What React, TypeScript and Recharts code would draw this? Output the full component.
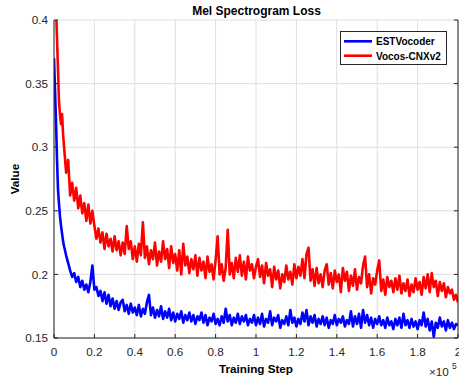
import React from 'react';
import { LineChart, Line, XAxis, YAxis, CartesianGrid } from 'recharts';

const seriesNames = ['ESTVocoder', 'Vocos-CNXv2'];
const seriesColors = ['#0000ff', '#ff0000'];

const chartTitle = 'Mel Spectrogram Loss';
const xLabel = 'Training Step';
const yLabel = 'Value';

const xTicks = [0, 20000, 40000, 60000, 80000, 100000, 120000, 140000, 160000, 180000, 200000];
const xTickLabels = ['0', '0.2', '0.4', '0.6', '0.8', '1', '1.2', '1.4', '1.6', '1.8', '2'];
const yTicks = [0.15, 0.2, 0.25, 0.3, 0.35, 0.4];
const yTickLabels = ['0.15', '0.2', '0.25', '0.3', '0.35', '0.4'];

// early logging (every 500 steps)
const earlySteps = [0, 500, 1000, 1500, 2000, 2500, 3000, 3500, 4000, 4500, 5000];
const estEarly = [0.37, 0.345, 0.32, 0.29, 0.266, 0.255, 0.245, 0.238, 0.232, 0.226, 0.222];
const vocosEarly = [0.46, 0.43, 0.41, 0.385, 0.36, 0.335, 0.325, 0.318, 0.326, 0.31, 0.3];

// later logging (every 1000 steps, from 6000 to 200000)
const lateStart = 6000;
const lateInterval = 1000;
const estLate = [
  0.215, 0.209, 0.203, 0.198, 0.201, 0.194, 0.198, 0.19, 0.195, 0.188,
  0.192, 0.186, 0.194, 0.207, 0.188, 0.19, 0.183, 0.187, 0.179, 0.186,
  0.177, 0.184, 0.175, 0.181, 0.173, 0.179, 0.172, 0.178, 0.18, 0.171,
  0.176, 0.169, 0.177, 0.17, 0.174, 0.168, 0.176, 0.167, 0.173, 0.169,
  0.178, 0.184, 0.168, 0.174, 0.166, 0.172, 0.167, 0.175, 0.165, 0.171,
  0.166, 0.173, 0.164, 0.17, 0.163, 0.169, 0.165, 0.171, 0.162, 0.168,
  0.164, 0.17, 0.163, 0.168, 0.161, 0.167, 0.164, 0.17, 0.162, 0.168,
  0.16, 0.166, 0.163, 0.169, 0.161, 0.165, 0.16, 0.167, 0.162, 0.173,
  0.163, 0.168, 0.16, 0.166, 0.162, 0.169, 0.161, 0.167, 0.163, 0.168,
  0.16, 0.165, 0.162, 0.168, 0.16, 0.166, 0.161, 0.169, 0.159, 0.165,
  0.162, 0.171, 0.16, 0.166, 0.163, 0.168, 0.158, 0.164, 0.161, 0.167,
  0.16, 0.172, 0.162, 0.166, 0.159, 0.165, 0.161, 0.17, 0.163, 0.172,
  0.16, 0.167, 0.162, 0.168, 0.159, 0.165, 0.161, 0.167, 0.16, 0.166,
  0.158, 0.164, 0.161, 0.168, 0.16, 0.165, 0.162, 0.167, 0.159, 0.164,
  0.161, 0.171, 0.159, 0.167, 0.161, 0.169, 0.158, 0.172, 0.162, 0.168,
  0.16, 0.166, 0.158, 0.165, 0.161, 0.167, 0.16, 0.164, 0.158, 0.166,
  0.16, 0.163, 0.157, 0.165, 0.16, 0.166, 0.158, 0.169, 0.16, 0.164,
  0.158, 0.165, 0.159, 0.163, 0.157, 0.164, 0.16, 0.17, 0.159, 0.165,
  0.156, 0.163, 0.151, 0.162, 0.158, 0.166, 0.159, 0.163, 0.156, 0.164,
  0.158, 0.162, 0.157, 0.161, 0.16,
];
const vocosLate = [
  0.28, 0.29, 0.262, 0.272, 0.258, 0.268, 0.252, 0.262, 0.248, 0.256,
  0.242, 0.255, 0.24, 0.25, 0.238, 0.228, 0.236, 0.225, 0.233, 0.22,
  0.232, 0.222, 0.228, 0.218, 0.23, 0.219, 0.226, 0.215, 0.225, 0.216,
  0.238, 0.22, 0.226, 0.212, 0.222, 0.21, 0.224, 0.215, 0.241, 0.213,
  0.222, 0.208, 0.219, 0.212, 0.225, 0.207, 0.218, 0.21, 0.226, 0.212,
  0.22, 0.205, 0.222, 0.209, 0.216, 0.203, 0.219, 0.2, 0.224, 0.207,
  0.214, 0.201, 0.212, 0.204, 0.215, 0.199, 0.213, 0.203, 0.21, 0.197,
  0.214, 0.202, 0.208, 0.196, 0.211, 0.23, 0.2, 0.208, 0.195, 0.205,
  0.235, 0.2, 0.209, 0.197, 0.213, 0.202, 0.215, 0.199, 0.21, 0.196,
  0.214, 0.203, 0.208, 0.197, 0.206, 0.212, 0.198, 0.207, 0.193, 0.209,
  0.199, 0.204, 0.19, 0.206, 0.196, 0.203, 0.189, 0.2, 0.194, 0.207,
  0.196, 0.202, 0.192, 0.208, 0.197, 0.206, 0.199, 0.212, 0.197, 0.216,
  0.221, 0.195, 0.204, 0.191, 0.205, 0.193, 0.2, 0.19, 0.203, 0.208,
  0.192, 0.201, 0.189, 0.203, 0.194, 0.2, 0.186, 0.205, 0.195, 0.202,
  0.187, 0.199, 0.191, 0.204, 0.188, 0.198, 0.193, 0.207, 0.214, 0.19,
  0.2, 0.185, 0.197, 0.192, 0.203, 0.211, 0.187, 0.196, 0.184, 0.198,
  0.19, 0.195, 0.186, 0.197, 0.188, 0.199, 0.185, 0.193, 0.187, 0.196,
  0.183, 0.192, 0.186, 0.197, 0.188, 0.194, 0.184, 0.198, 0.189, 0.2,
  0.186, 0.201, 0.19, 0.195, 0.183, 0.194, 0.187, 0.193, 0.182, 0.19,
  0.185, 0.188, 0.18, 0.184, 0.178,
];

const data = [
  ...earlySteps.map((s, i) => ({ step: s, est: estEarly[i], vocos: vocosEarly[i] })),
  ...estLate.map((v, i) => ({ step: lateStart + i * lateInterval, est: v, vocos: vocosLate[i] })),
];

const FONT = '"Liberation Sans", Arial, Helvetica, sans-serif';
const AXIS_COLOR = '#262626';
const tickFont = { fontFamily: FONT, fontSize: 11.7, fill: AXIS_COLOR };

const BottomTick = (p: any) => {
  const i = xTicks.indexOf(p.payload.value);
  return (
    <g>
      <line x1={p.x} x2={p.x} y1={p.y} y2={p.y - 4} stroke={AXIS_COLOR} strokeWidth={1} />
      <text x={p.x} y={p.y + 18} textAnchor="middle" {...tickFont}>{xTickLabels[i]}</text>
    </g>
  );
};
const TopTick = (p: any) => (
  <line x1={p.x} x2={p.x} y1={p.y} y2={p.y + 4} stroke={AXIS_COLOR} strokeWidth={1} />
);
const LeftTick = (p: any) => {
  const i = yTicks.indexOf(p.payload.value);
  return (
    <g>
      <line x1={p.x} x2={p.x + 4} y1={p.y} y2={p.y} stroke={AXIS_COLOR} strokeWidth={1} />
      <text x={p.x - 6} y={p.y + 4.2} textAnchor="end" {...tickFont}>{yTickLabels[i]}</text>
    </g>
  );
};
const RightTick = (p: any) => (
  <line x1={p.x} x2={p.x - 4} y1={p.y} y2={p.y} stroke={AXIS_COLOR} strokeWidth={1} />
);

export default function App() {
  return (
    <div style={{ position: 'absolute', left: 0, top: 0, width: 459, height: 377, background: '#fff' }}>
      <LineChart width={459} height={377} data={data} margin={{ top: 20, right: 0, bottom: 0, left: 0 }}>
        <CartesianGrid stroke="#dedede" strokeWidth={1} />
        <XAxis
          dataKey="step"
          type="number"
          domain={[0, 200000]}
          ticks={xTicks}
          interval={0}
          allowDataOverflow
          height={39}
          tickSize={0}
          tickMargin={0}
          tickLine={false}
          axisLine={{ stroke: AXIS_COLOR }}
          tick={(p: any) => <BottomTick {...p} />}
        />
        <XAxis
          xAxisId="top"
          orientation="top"
          dataKey="step"
          type="number"
          domain={[0, 200000]}
          ticks={xTicks}
          interval={0}
          allowDataOverflow
          height={0}
          tickSize={0}
          tickMargin={0}
          tickLine={false}
          axisLine={{ stroke: AXIS_COLOR }}
          tick={(p: any) => <TopTick {...p} />}
        />
        <YAxis
          type="number"
          domain={[0.15, 0.4]}
          ticks={yTicks}
          interval={0}
          allowDataOverflow
          width={54}
          tickSize={0}
          tickMargin={0}
          tickLine={false}
          axisLine={{ stroke: AXIS_COLOR }}
          tick={(p: any) => <LeftTick {...p} />}
        />
        <YAxis
          yAxisId="right"
          orientation="right"
          type="number"
          domain={[0.15, 0.4]}
          ticks={yTicks}
          interval={0}
          allowDataOverflow
          width={1}
          tickSize={0}
          tickMargin={0}
          tickLine={false}
          axisLine={{ stroke: AXIS_COLOR }}
          tick={(p: any) => <RightTick {...p} />}
        />
        <Line
          type="linear"
          dataKey="est"
          name={seriesNames[0]}
          stroke={seriesColors[0]}
          strokeWidth={2.6}
          strokeLinejoin="round"
          dot={false}
          isAnimationActive={false}
        />
        <Line
          type="linear"
          dataKey="vocos"
          name={seriesNames[1]}
          stroke={seriesColors[1]}
          strokeWidth={2.6}
          strokeLinejoin="round"
          dot={false}
          isAnimationActive={false}
        />
      </LineChart>
      <svg width={459} height={377} style={{ position: 'absolute', left: 0, top: 0, pointerEvents: 'none' }}>
        <text x={256.5} y={15} textAnchor="middle" fontFamily={FONT} fontSize={12} fontWeight="bold" fill="#000">
          {chartTitle}
        </text>
        <text x={256} y={373} textAnchor="middle" fontFamily={FONT} fontSize={11.7} fontWeight="bold" fill="#000">
          {xLabel}
        </text>
        <text
          x={19}
          y={179}
          textAnchor="middle"
          transform="rotate(-90 19 179)"
          fontFamily={FONT}
          fontSize={11.7}
          fontWeight="bold"
          fill="#000"
        >
          {yLabel}
        </text>
        <text x={429} y={376} fontFamily={FONT} fontSize={11.7} fill={AXIS_COLOR}>
          {'\u00d710'}
        </text>
        <text x={452} y={369} fontFamily={FONT} fontSize={8.5} fill={AXIS_COLOR}>
          5
        </text>
        <rect x={340.5} y={31.5} width={106} height={33} fill="#fff" stroke={AXIS_COLOR} strokeWidth={1} />
        <line x1={344} x2={372} y1={41.3} y2={41.3} stroke={seriesColors[0]} strokeWidth={2.6} />
        <line x1={344} x2={372} y1={55.7} y2={55.7} stroke={seriesColors[1]} strokeWidth={2.6} />
        <text x={376} y={45} fontFamily={FONT} fontSize={10} fontWeight="bold" fill="#000">
          {seriesNames[0]}
        </text>
        <text x={376} y={59.5} fontFamily={FONT} fontSize={10} fontWeight="bold" fill="#000">
          {seriesNames[1]}
        </text>
      </svg>
    </div>
  );
}
